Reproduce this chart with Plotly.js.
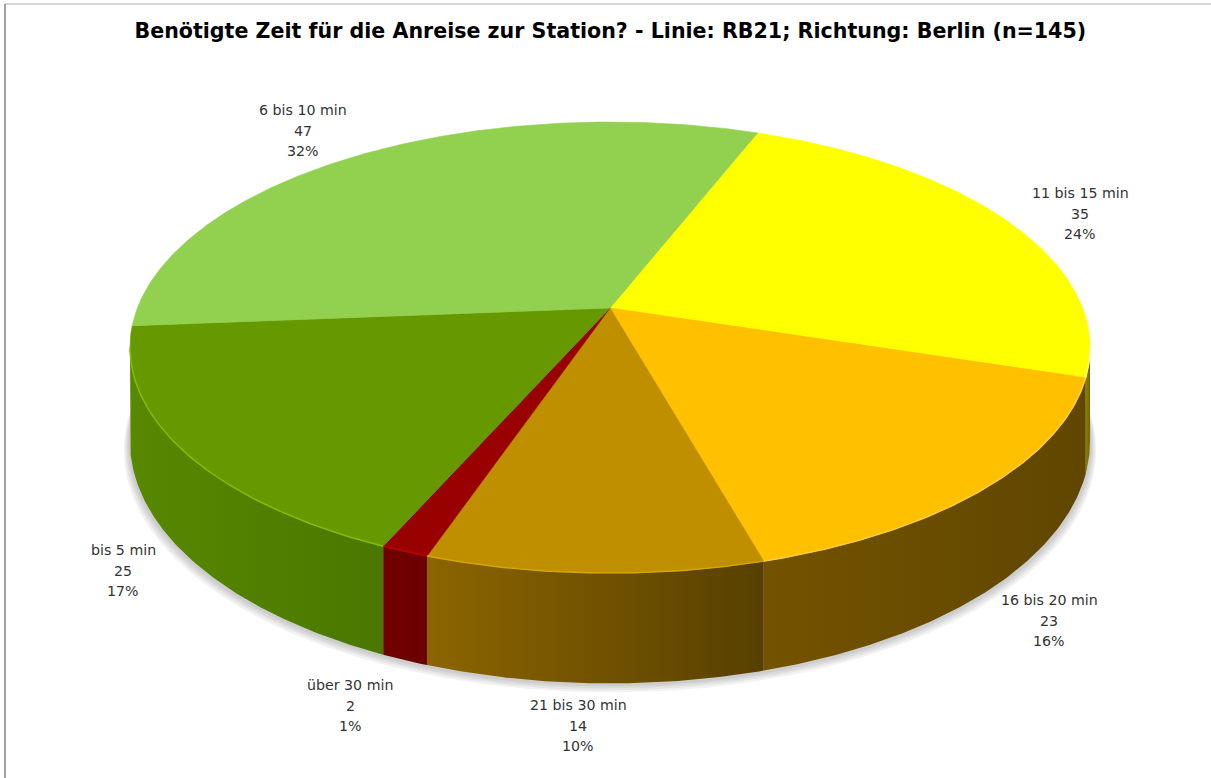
<!DOCTYPE html>
<html>
<head>
<meta charset="utf-8">
<script src="https://cdn.plot.ly/plotly-3.0.1.min.js"></script>
<style>html,body{margin:0;padding:0;background:#fff;}#chart{width:1211px;height:778px;}</style>
</head>
<body>
<div id="chart"></div>
<script>
// ---- data (clockwise order, starting near the top) ----
const categories = ['11 bis 15 min', '16 bis 20 min', '21 bis 30 min', 'über 30 min', 'bis 5 min', '6 bis 10 min'];
const counts = [35, 23, 14, 2, 25, 47];
const topColors = ['#ffff00', '#ffc000', '#bf8f00', '#990000', '#669900', '#92d050'];
const sideColorsL = ['#8a8200', '#735300', '#8c6500', '#720000', '#578800', '#6c9c3a'];
const sideColorsR = ['#6e6600', '#604600', '#574000', '#6a0000', '#4a7700', '#5e8a30'];
const rimColors = ['#ffff80', '#ffd040', '#d8a800', '#c00000', '#82c000', '#b0e070'];
const titleText = 'Benötigte Zeit für die Anreise zur Station? - Linie: RB21; Richtung: Berlin (n=145)';
// label anchor positions (layout, pixel space)
const labelX = [1080, 1049, 578, 350, 123, 303];
const labelY = [193, 600, 705, 685, 550, 110];

// ---- geometry of the tilted pie ----
const CX = 610, CY = 308, RX = 472.6, RY = 218.6, K = 0.1752, H = 91;
const START = 21.3;
function proj(deg, down) {
  const t = deg * Math.PI / 180;
  const u = Math.sin(t), v = -Math.cos(t);
  const s = 1 / (1 - K * v);
  return [CX + RX * u * s, CY + RY * v * s + (down ? H * s : 0)];
}
function arc(a0, a1, down) {
  const n = Math.max(2, Math.ceil(Math.abs(a1 - a0) / 0.5));
  const xs = [], ys = [];
  for (let i = 0; i <= n; i++) {
    const p = proj(a0 + (a1 - a0) * i / n, down);
    xs.push(p[0]); ys.push(p[1]);
  }
  return [xs, ys];
}
const SIL_R = Math.acos(-K) * 180 / Math.PI;
const SIL_L = 360 - SIL_R;

const total = counts.reduce((a, b) => a + b, 0);
const angles = [];
let acc = START;
counts.forEach(c => { const span = c / total * 360; angles.push([acc, acc + span]); acc += span; });

const traces = [];
// soft shadow
[9, 7, 5, 3].forEach(d => {
  const [xs, ys] = arc(0, 360, true);
  traces.push({
    type: 'scatter', mode: 'lines', hoverinfo: 'skip', showlegend: false,
    x: xs.map(x => CX + (x - CX) * (1 + d / 700)), y: ys.map(y => y + d),
    fill: 'toself', fillcolor: 'rgba(0,0,0,0.05)', line: {width: 0}
  });
});
// side walls
angles.forEach(([a0, a1], i) => {
  const lo = Math.max(a0, SIL_R), hi = Math.min(a1, SIL_L);
  if (hi <= lo) return;
  const [tx, ty] = arc(lo, hi, false);
  const [bx, by] = arc(hi, lo, true);
  traces.push({
    type: 'scatter', mode: 'lines', hoverinfo: 'skip', showlegend: false,
    x: tx.concat(bx), y: ty.concat(by), fill: 'toself',
    fillcolor: sideColorsL[i],
    fillgradient: {type: 'horizontal', colorscale: [[0, sideColorsL[i]], [1, sideColorsR[i]]]},
    line: {width: 0}
  });
});
// top faces
angles.forEach(([a0, a1], i) => {
  const [xs, ys] = arc(a0, a1, false);
  traces.push({
    type: 'scatter', mode: 'lines', hoverinfo: 'skip', showlegend: false,
    x: [CX].concat(xs, [CX]), y: [CY].concat(ys, [CY]),
    fill: 'toself', fillcolor: topColors[i], line: {width: 0.6, color: topColors[i]}
  });
});
// rim highlights on the front edge
angles.forEach(([a0, a1], i) => {
  const lo = Math.max(a0, SIL_R), hi = Math.min(a1, SIL_L);
  if (hi <= lo) return;
  const [xs, ys] = arc(lo, hi, false);
  traces.push({
    type: 'scatter', mode: 'lines', hoverinfo: 'skip', showlegend: false,
    x: xs, y: ys, line: {width: 1.4, color: rimColors[i]}
  });
});

const annotations = [];
categories.forEach((cat, i) => {
  const pct = Math.round(counts[i] / total * 100) + '%';
  [cat, String(counts[i]), pct].forEach((line, j) => {
    annotations.push({
      x: labelX[i], y: labelY[i] + j * 20.5, xref: 'x', yref: 'y',
      text: line, showarrow: false, xanchor: 'center', yanchor: 'middle',
      font: {family: 'DejaVu Sans, Verdana, sans-serif', size: 14.2, color: '#333333'}
    });
  });
});

const layout = {
  width: 1211, height: 778, autosize: false,
  margin: {l: 0, r: 0, t: 0, b: 0},
  paper_bgcolor: '#ffffff', plot_bgcolor: '#ffffff',
  showlegend: false,
  title: {
    text: '<b>' + titleText + '</b>', x: 0.504, xanchor: 'center',
    y: 1 - 31 / 778, yanchor: 'middle', yref: 'container',
    font: {family: 'DejaVu Sans, Verdana, sans-serif', size: 20.6, color: '#000000'}
  },
  xaxis: {range: [0, 1211], visible: false, fixedrange: true},
  yaxis: {range: [778, 0], visible: false, fixedrange: true},
  annotations: annotations,
  shapes: [
    {type: 'line', xref: 'x', yref: 'y', x0: 5, x1: 1211, y0: 4, y1: 4, line: {color: '#c8c8c8', width: 1.5}},
    {type: 'line', xref: 'x', yref: 'y', x0: 5, x1: 5, y0: 4, y1: 778, line: {color: '#a0a0a0', width: 2}}
  ]
};
Plotly.newPlot('chart', traces, layout, {staticPlot: true, displayModeBar: false});
</script>
</body>
</html>
